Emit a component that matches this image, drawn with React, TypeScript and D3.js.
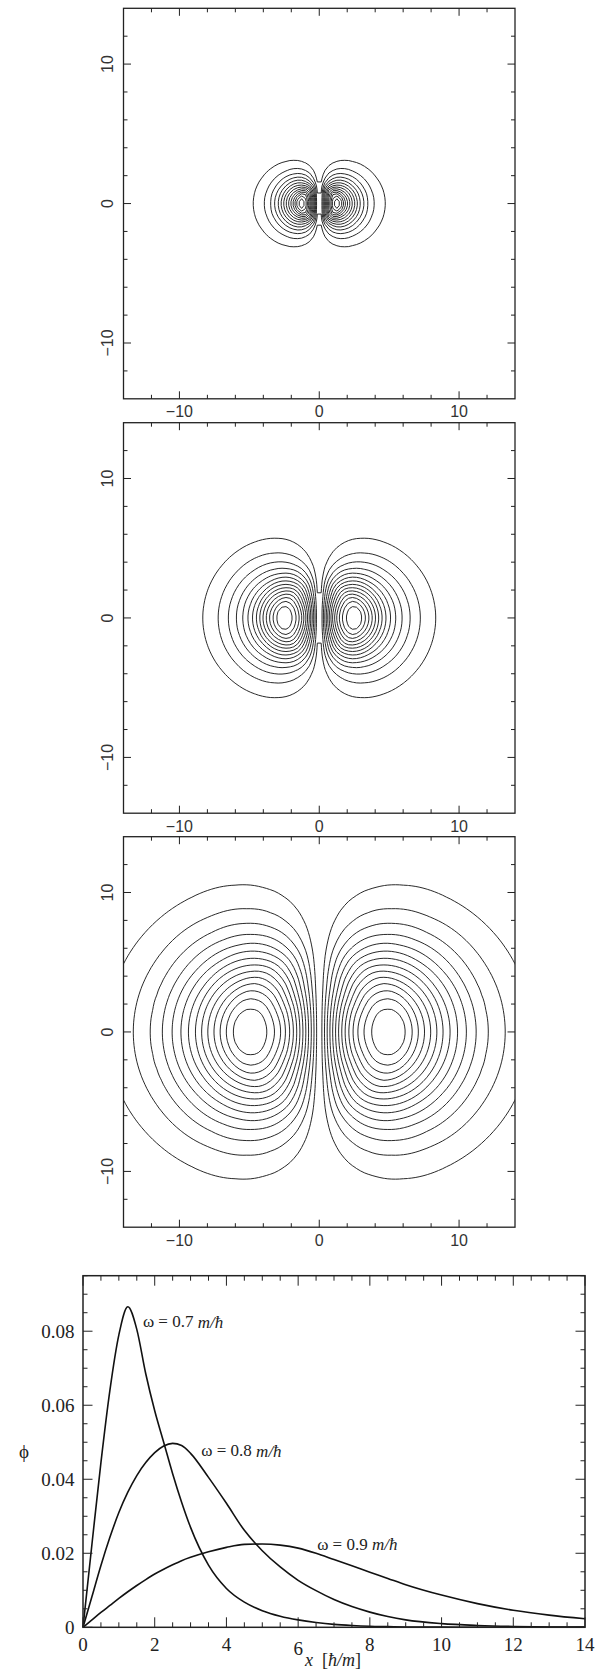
import React from "react";
import * as d3 from "d3";

// radial profiles phi(x), one per omega
const omegas = ["0.7", "0.8", "0.9"];
const profileX = [0, 0.25, 0.5, 0.75, 1, 1.25, 1.5, 1.75, 2, 2.25, 2.5, 2.75, 3, 3.5, 4, 4.5, 5, 5.5, 6, 6.5, 7, 7.5, 8, 8.5, 9, 10, 11, 12, 13, 14];
const phi07 = [0, 0.0225, 0.0445, 0.064, 0.079, 0.0866, 0.0805, 0.0685, 0.0585, 0.05, 0.0415, 0.0338, 0.027, 0.0168, 0.0105, 0.0068, 0.0045, 0.003, 0.002, 0.0013, 0.0008, 0.0005, 0.0003, 0.0002, 0.0001, 0.00004, 0.00002, 0.00001, 0.000005, 0.000002];
const phi08 = [0, 0.0083, 0.0167, 0.0243, 0.031, 0.0365, 0.041, 0.0445, 0.0472, 0.049, 0.0497, 0.0491, 0.047, 0.0405, 0.0335, 0.0262, 0.0207, 0.0163, 0.0127, 0.0099, 0.0075, 0.0056, 0.0041, 0.0029, 0.002, 0.001, 0.0005, 0.00022, 0.0001, 0.00005];
const phi09 = [0, 0.002, 0.004, 0.0059, 0.0078, 0.0096, 0.0113, 0.0129, 0.0144, 0.0157, 0.0169, 0.018, 0.0189, 0.0204, 0.0216, 0.0224, 0.0225, 0.0222, 0.0214, 0.02, 0.0183, 0.0166, 0.0149, 0.0132, 0.0115, 0.0087, 0.0064, 0.0046, 0.0033, 0.0023];
const profiles = [phi07, phi08, phi09];

// contour levels as fractions of each panel's peak
const contourLevels = [1, 2, 3, 4, 5, 6, 7, 8, 9, 10, 11, 12, 13, 14].map((k) => k / 15);
// the lobes are a little flatter than a pure radial map
const zSquash = 1.1;

const contourMajor = [-10, 0, 10];
const phiXTicks = [0, 2, 4, 6, 8, 10, 12, 14];
const phiYTicks = [0, 0.02, 0.04, 0.06, 0.08];
// label anchors in data coords (x, phi)
const curveLabels = [
  { x: 1.67, y: 0.0826 },
  { x: 3.3, y: 0.0477 },
  { x: 6.53, y: 0.0225 },
];

const W = 606, H = 1679;
const cLeft = 123.5, cRight = 515, cH = 390.5;
const cTops = [8.3, 422.7, 836.7];
const pLeft = 83, pRight = 585, pTop = 1275.7, pBottom = 1627.3;

const sans = "Liberation Sans, Arial, sans-serif";
const serif = "Liberation Serif, serif";

function profileAt(ys: number[], r: number) {
  const n = profileX.length;
  if (r >= profileX[n - 1]) {
    const a = ys[n - 2], b = ys[n - 1];
    if (a <= 0 || b <= 0) return b;
    const k = Math.log(b / a) / (profileX[n - 1] - profileX[n - 2]);
    return b * Math.exp(k * (r - profileX[n - 1]));
  }
  const i = Math.max(0, d3.bisectRight(profileX, r) - 1);
  const t = (r - profileX[i]) / (profileX[i + 1] - profileX[i]);
  return ys[i] * (1 - t) + ys[i + 1] * t;
}

// grid cells are centred off the axis (samples at +-step/2), like the original mesh
const step = 0.28, n = 108, half = n / 2;

function ContourPanel({ top, ys }: { top: number; ys: number[] }) {
  const bottom = top + cH;
  const x = d3.scaleLinear().domain([-14, 14]).range([cLeft, cRight]);
  const y = d3.scaleLinear().domain([-14, 14]).range([bottom, top]);
  const values = new Array(n * n);
  for (let j = 0; j < n; j++) {
    const yy = (half - 0.5 - j) * step * zSquash;
    for (let i = 0; i < n; i++) {
      const xx = (i + 0.5 - half) * step;
      const r = Math.hypot(xx, yy);
      values[j * n + i] = (profileAt(ys, r) * Math.abs(xx)) / r;
    }
  }
  const peak = d3.max(ys) as number;
  const polys = d3.contours().size([n, n]).thresholds(contourLevels.map((f) => f * peak))(values);
  const proj = d3.geoTransform({
    point(px: number, py: number) {
      this.stream.point(x((px - half) * step), y((half - py) * step));
    },
  });
  const path = d3.geoPath(proj);
  const minor = d3.range(-12, 12.1, 2);
  const id = `clip${Math.round(top)}`;
  return (
    <g>
      <defs>
        <clipPath id={id}>
          <rect x={cLeft} y={top} width={cRight - cLeft} height={cH} />
        </clipPath>
      </defs>
      <g clipPath={`url(#${id})`} fill="none" stroke="#111" strokeWidth={0.9}>
        {polys.map((p, k) => (
          <path key={k} d={path(p as any) || ""} />
        ))}
      </g>
      <rect x={cLeft} y={top} width={cRight - cLeft} height={cH} fill="none" stroke="#222" strokeWidth={1.3} />
      {minor.map((v) => {
        const L = contourMajor.includes(v) ? 7.5 : 4;
        return (
          <g key={v} stroke="#222" strokeWidth={1}>
            <line x1={x(v)} x2={x(v)} y1={bottom} y2={bottom - L} />
            <line x1={x(v)} x2={x(v)} y1={top} y2={top + L} />
            <line x1={cLeft} x2={cLeft + L} y1={y(v)} y2={y(v)} />
            <line x1={cRight} x2={cRight - L} y1={y(v)} y2={y(v)} />
          </g>
        );
      })}
      {contourMajor.map((v) => (
        <text key={"x" + v} x={x(v)} y={bottom + 13} textAnchor="middle" dominantBaseline="central" fontFamily={sans} fontSize={16} fill="#333">
          {v < 0 ? `\u2212${-v}` : v}
        </text>
      ))}
      {contourMajor.map((v) => (
        <text key={"y" + v} transform={`translate(${cLeft - 16},${y(v)}) rotate(-90)`} textAnchor="middle" dominantBaseline="central" fontFamily={sans} fontSize={16} fill="#333">
          {v < 0 ? `\u2212${-v}` : v}
        </text>
      ))}
    </g>
  );
}

function ProfilePanel() {
  const x = d3.scaleLinear().domain([0, 14]).range([pLeft, pRight]);
  const y = d3.scaleLinear().domain([0, 0.095]).range([pBottom, pTop]);
  const line = d3
    .line<number>()
    .x((_, i) => x(profileX[i]))
    .y((d) => y(d))
    .curve(d3.curveMonotoneX);
  const xMinor = d3.range(0, 14.01, 0.5);
  const yMinor = d3.range(0, 0.0951, 0.005);
  return (
    <g>
      {profiles.map((ys, k) => (
        <path key={k} d={line(ys) || ""} fill="none" stroke="#111" strokeWidth={1.6} />
      ))}
      <rect x={pLeft} y={pTop} width={pRight - pLeft} height={pBottom - pTop} fill="none" stroke="#222" strokeWidth={1.5} />
      {xMinor.map((v) => {
        const L = Math.abs(v / 2 - Math.round(v / 2)) < 1e-6 ? 10 : 5;
        return (
          <g key={v} stroke="#222" strokeWidth={1}>
            <line x1={x(v)} x2={x(v)} y1={pBottom} y2={pBottom - L} />
            <line x1={x(v)} x2={x(v)} y1={pTop} y2={pTop + L} />
          </g>
        );
      })}
      {yMinor.map((v, i) => {
        const L = i % 4 === 0 ? 9.5 : 4.5;
        return (
          <g key={i} stroke="#222" strokeWidth={1}>
            <line x1={pLeft} x2={pLeft + L} y1={y(v)} y2={y(v)} />
            <line x1={pRight} x2={pRight - L} y1={y(v)} y2={y(v)} />
          </g>
        );
      })}
      {phiXTicks.map((v) => (
        <text key={v} x={x(v)} y={1644 + (v === 6 ? 4 : 0)} textAnchor="middle" dominantBaseline="central" fontFamily={serif} fontSize={19} fill="#222">
          {v}
        </text>
      ))}
      {phiYTicks.map((v) => (
        <text key={v} x={74.5} y={y(v)} textAnchor="end" dominantBaseline="central" fontFamily={serif} fontSize={19} fill="#222">
          {v === 0 ? "0" : v.toFixed(2)}
        </text>
      ))}
      {curveLabels.map((p, k) => (
        <text key={k} x={x(p.x)} y={y(p.y)} dominantBaseline="central" fontFamily={serif} fontSize={17} fill="#222">
          {"\u03c9 = " + omegas[k] + " "}
          <tspan fontStyle="italic">m/ħ</tspan>
        </text>
      ))}
      <text x={24} y={1451} textAnchor="middle" dominantBaseline="central" fontFamily={serif} fontSize={19} fill="#222">
        {"\u03d5"}
      </text>
      <text x={333} y={1666} textAnchor="middle" fontFamily={serif} fontSize={18} fill="#222">
        <tspan fontStyle="italic">x</tspan>
        {"\u00a0\u00a0["}
        <tspan fontStyle="italic">ħ/m</tspan>
        {"]"}
      </text>
    </g>
  );
}

export default function App() {
  return (
    <svg width={W} height={H} style={{ position: "absolute", left: 0, top: 0, background: "#fff" }}>
      {cTops.map((t, k) => (
        <ContourPanel key={k} top={t} ys={profiles[k]} />
      ))}
      <ProfilePanel />
    </svg>
  );
}
